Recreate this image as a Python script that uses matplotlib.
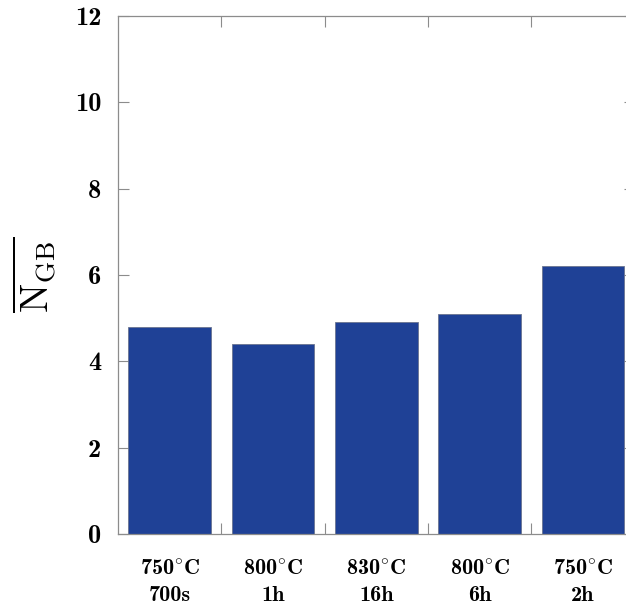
import numpy as np
import matplotlib.pyplot as plt

# data
temps = ['750', '800', '830', '800', '750']
times = ['700s', '1h', '16h', '6h', '2h']
n_gb = [4.8, 4.4, 4.9, 5.1, 6.2]

plt.rcParams['mathtext.fontset'] = 'cm'
plt.rcParams['axes.unicode_minus'] = False
bold = ['cmb10', 'DejaVu Serif']

fig = plt.figure(figsize=(6.26, 6.05), dpi=100)
# right part of the axes runs past the figure edge, like in the reference
ax = fig.add_axes([118 / 626, 71 / 605, 516.7 / 626, 518 / 605])

x = np.arange(len(n_gb))
ax.bar(x, n_gb, width=0.8, color='#1f4196', edgecolor='#6b7590', linewidth=0.6, zorder=2)

ax.set_xlim(-0.5, len(n_gb) - 0.5)
ax.set_ylim(0, 12)

ax.set_yticks(range(0, 13, 2))
ax.set_yticklabels([str(v) for v in range(0, 13, 2)], fontsize=19, family=bold)

# degree sign from mathtext, since cmb10 has no proper glyph for it
labels = [t + r'$^{\circ}$C' + '\n' + s for t, s in zip(temps, times)]
ax.set_xticks(x)
ax.set_xticklabels(labels, fontsize=16, linespacing=1.5, family=bold)
ax.tick_params(axis='x', which='major', length=0, pad=18)

# separators between bars
ax.set_xticks(x[:-1] + 0.5, minor=True)
ax.tick_params(axis='x', which='minor', direction='in', length=8, width=0.8,
               color='#8c8c8c', top=True, bottom=True)
ax.tick_params(axis='y', which='major', direction='in', length=8, width=0.8,
               color='#8c8c8c', pad=12, right=True)

for sp in ax.spines.values():
    sp.set_color('#8c8c8c')
    sp.set_linewidth(0.9)

ax.set_ylabel(r'$\overline{\mathrm{N}_{\mathrm{GB}}}$', fontsize=28, labelpad=12)

fig.savefig('out.png', dpi=100)
